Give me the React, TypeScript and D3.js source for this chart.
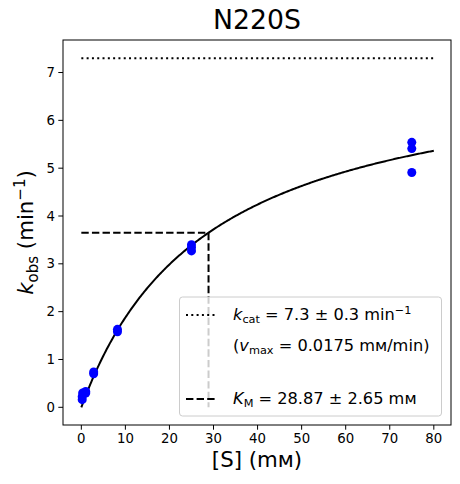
import React from "react";
import * as d3 from "d3";

// measured substrate concentrations (mM) and observed rates (min^-1)
const substrate = [0.2, 0.2, 0.3, 1, 1, 2.8, 2.8, 8.2, 8.2, 25, 25, 25, 75, 75, 75];
const kobs = [0.16, 0.22, 0.3, 0.3, 0.33, 0.7, 0.74, 1.58, 1.63, 3.27, 3.34, 3.4, 5.54, 5.41, 4.91];

// fit results
const kcat = 7.3;
const KM = 28.87;
const fitRange = [0, 80];

const xTicks = [0, 10, 20, 30, 40, 50, 60, 70, 80];
const yTicks = [0, 1, 2, 3, 4, 5, 6, 7];

const W = 460;
const H = 484;
const m = { left: 63, right: 451, top: 40, bottom: 425 };
const FONT = "DejaVu Sans, sans-serif";

const App: React.FC = () => {
  const x = d3.scaleLinear().domain([-4.16, 83.9]).range([m.left, m.right]);
  const y = d3.scaleLinear().domain([-0.37, 7.68]).range([m.bottom, m.top]);

  const fitX = d3.range(fitRange[0], fitRange[1] + 0.25, 0.25);
  const fitLine = d3
    .line<number>()
    .x((s) => x(s))
    .y((s) => y((kcat * s) / (KM + s)))(fitX)!;

  const halfV = kcat / 2;
  const dotted = "2 3.3";
  const dashed = "7.4 3.2";

  return (
    <svg
      width={W}
      height={H}
      style={{ position: "absolute", left: 0, top: 0, background: "#fff" }}
      fontFamily={FONT}
    >
      <rect width={W} height={H} fill="#fff" />

      {/* kcat asymptote */}
      <line
        x1={x(fitRange[0])}
        x2={x(fitRange[1])}
        y1={y(kcat)}
        y2={y(kcat)}
        stroke="#000"
        strokeWidth={2}
        strokeDasharray={dotted}
      />
      {/* KM guides */}
      <path
        d={`M${x(0)},${y(halfV)}H${x(KM)}V${y(0)}`}
        fill="none"
        stroke="#000"
        strokeWidth={2}
        strokeDasharray={dashed}
      />
      {/* fit curve */}
      <path d={fitLine} fill="none" stroke="#000" strokeWidth={2} />

      {/* data */}
      {substrate.map((s, i) => (
        <circle key={i} cx={x(s)} cy={y(kobs[i])} r={4.5} fill="#0000ff" />
      ))}

      {/* axes frame */}
      <rect
        x={m.left}
        y={m.top}
        width={m.right - m.left}
        height={m.bottom - m.top}
        fill="none"
        stroke="#000"
        strokeWidth={1}
      />

      {/* x ticks */}
      {xTicks.map((t) => (
        <g key={t} transform={`translate(${x(t)},${m.bottom})`}>
          <line y2={4.7} stroke="#000" strokeWidth={1} />
          <text y={18} textAnchor="middle" fontSize={13.3} fill="#000">
            {t}
          </text>
        </g>
      ))}
      {/* y ticks */}
      {yTicks.map((t) => (
        <g key={t} transform={`translate(${m.left},${y(t)})`}>
          <line x2={-4.7} stroke="#000" strokeWidth={1} />
          <text x={-8} dy="0.35em" textAnchor="end" fontSize={13.3} fill="#000">
            {t}
          </text>
        </g>
      ))}

      {/* title and labels */}
      <text x={(m.left + m.right) / 2} y={29} textAnchor="middle" fontSize={26.7} fill="#000">
        N220S
      </text>
      <text x={(m.left + m.right) / 2} y={467} textAnchor="middle" fontSize={21.3} fill="#000">
        [S] (mм)
      </text>
      <text
        transform={`translate(33,${(m.top + m.bottom) / 2}) rotate(-90)`}
        textAnchor="middle"
        fontSize={21.3}
        fill="#000"
      >
        <tspan fontStyle="italic">k</tspan>
        <tspan fontSize={15} dy={4.5}>obs</tspan>
        <tspan dy={-4.5}> (min</tspan>
        <tspan fontSize={15} dy={-8.5}>−1</tspan>
        <tspan dy={8.5}>)</tspan>
      </text>

      {/* legend */}
      <g>
        <rect
          x={179.5}
          y={297}
          width={262}
          height={119}
          rx={3}
          fill="#fff"
          fillOpacity={0.8}
          stroke="#cccccc"
          strokeWidth={1}
        />
        <line x1={186} x2={216.5} y1={315} y2={315} stroke="#000" strokeWidth={2} strokeDasharray={dotted} />
        <line x1={186} x2={216.5} y1={399} y2={399} stroke="#000" strokeWidth={2} strokeDasharray={dashed} />
        <text x={233} y={320} fontSize={16.2} fill="#000">
          <tspan fontStyle="italic">k</tspan>
          <tspan fontSize={11.3} dy={3.2}>cat</tspan>
          <tspan dy={-3.2}> = 7.3 ± 0.3 min</tspan>
          <tspan fontSize={11.3} dy={-6.5}>−1</tspan>
        </text>
        <text x={233} y={351} fontSize={16.2} fill="#000">
          <tspan>(</tspan>
          <tspan fontStyle="italic">v</tspan>
          <tspan fontSize={11.3} dy={3.2}>max</tspan>
          <tspan dy={-3.2}> = 0.0175 mм/min)</tspan>
        </text>
        <text x={233} y={404} fontSize={16.2} fill="#000">
          <tspan fontStyle="italic">K</tspan>
          <tspan fontSize={11.3} dy={3.2}>M</tspan>
          <tspan dy={-3.2}> = 28.87 ± 2.65 mм</tspan>
        </text>
      </g>
    </svg>
  );
};

export default App;
